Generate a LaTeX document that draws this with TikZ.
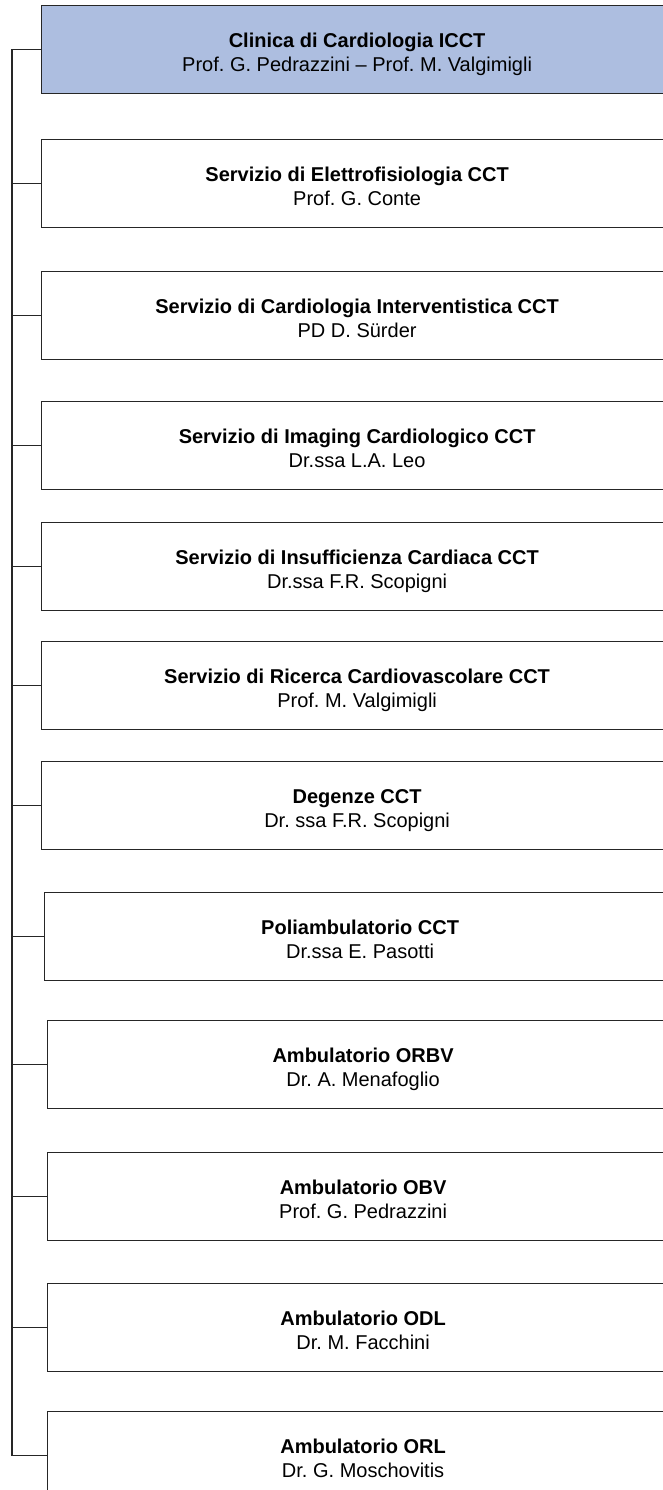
\documentclass[tikz,border=0pt]{standalone}
\usepackage{fontspec}
\setmainfont{Liberation Sans}
\usepackage{tikz}
\frenchspacing

\definecolor{clinicblue}{RGB}{173,190,224}

\tikzset{
  unitbox/.style={draw=black!85,line width=1.2pt,minimum width=631pt,minimum height=88pt,inner sep=0pt,anchor=north west},
  unittext/.style={anchor=north,inner sep=0pt,align=center,font=\fontsize{20}{24}\selectfont},
  busline/.style={draw=black!85,line width=1.4pt}
}

\begin{document}
\begin{tikzpicture}[x=1pt,y=-1pt]
  \useasboundingbox (0,0) rectangle (662,1490);
  \coordinate (bus) at (12,50);
  % head of the clinic
  \node[unitbox,fill=clinicblue] (clinica) at (41,5) {};
  \node[unittext] (clinica-t) at ([yshift=-28pt]clinica.north) {\textbf{Clinica di Cardiologia ICCT}\\Prof. G. Pedrazzini -- Prof. M. Valgimigli};
  % services
  \foreach \ty/\lx/\nm/\unit/\head in {
      139/41/elettro/Servizio di Elettrofisiologia CCT/Prof. G. Conte,
      271/41/interv/Servizio di Cardiologia Interventistica CCT/PD D. Sürder,
      401/41/imaging/Servizio di Imaging Cardiologico CCT/Dr.ssa L.A. Leo,
      522/41/insuff/Servizio di Insufficienza Cardiaca CCT/Dr.ssa F.R. Scopigni,
      641/41/ricerca/Servizio di Ricerca Cardiovascolare CCT/Prof. M. Valgimigli,
      761/41/degenze/Degenze CCT/Dr. ssa F.R. Scopigni,
      892/44/poliamb/Poliambulatorio CCT/Dr.ssa E. Pasotti,
      1020/47/orbv/Ambulatorio ORBV/Dr. A. Menafoglio,
      1152/47/obv/Ambulatorio OBV/Prof. G. Pedrazzini,
      1283/47/odl/Ambulatorio ODL/Dr. M. Facchini,
      1411/47/orl/Ambulatorio ORL/Dr. G. Moschovitis}
  {
    \node[unitbox] (\nm) at (\lx,\ty) {};
    \node[unittext] (\nm-t) at ([yshift=-28pt]\nm.north) {\textbf{\unit}\\\head};
    \draw[busline] (\nm.west) -- (\nm.west -| bus);
  }
  % vertical bus
  \draw[busline] (clinica.west) -- (clinica.west -| bus) -- (orl.west -| bus);
\end{tikzpicture}
\end{document}
